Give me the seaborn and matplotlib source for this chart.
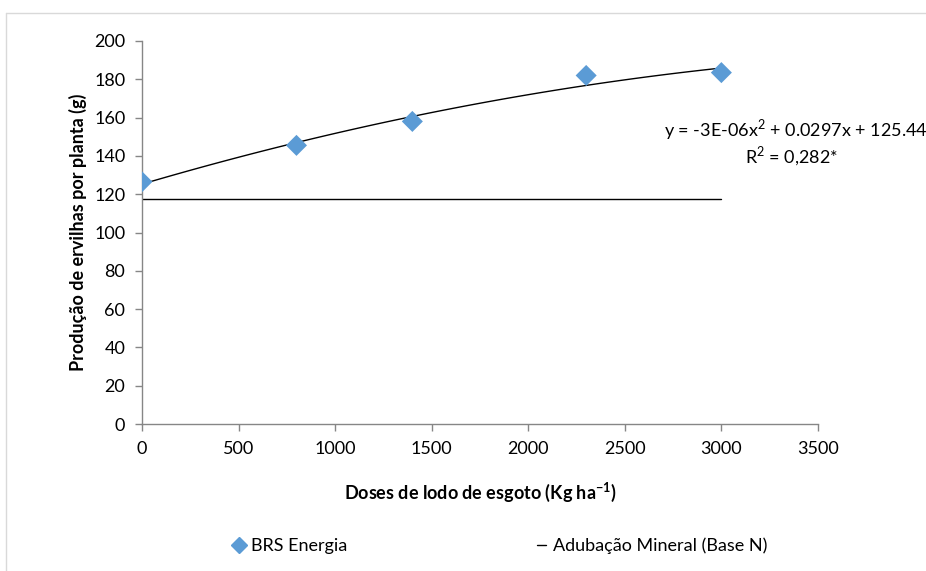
import numpy as np
import pandas as pd
import matplotlib
matplotlib.use("Agg")
import matplotlib.pyplot as plt
import seaborn as sns
from matplotlib.lines import Line2D

# data
doses = [0, 800, 1400, 2300, 3000]
producao = [126.5, 145.5, 158.0, 182.0, 183.5]
base_n_x = [0, 3000]
base_n_y = [117.5, 117.5]

x_ticks = [0, 500, 1000, 1500, 2000, 2500, 3000, 3500]
y_ticks = [0, 20, 40, 60, 80, 100, 120, 140, 160, 180, 200]

df = pd.DataFrame({"dose": doses, "prod": producao})

sns.set_style("white")
plt.rcParams['font.family'] = ['Lato', 'DejaVu Sans']
plt.rcParams['text.color'] = 'black'
plt.rcParams['axes.labelcolor'] = 'black'
plt.rcParams['xtick.color'] = 'black'
plt.rcParams['ytick.color'] = 'black'
plt.rcParams['mathtext.fontset'] = 'custom'
plt.rcParams['mathtext.rm'] = 'Lato'
plt.rcParams['mathtext.bf'] = 'Lato:bold'

fig = plt.figure(figsize=(9.26, 5.71), dpi=100)
ax = fig.add_axes([0.1533, 0.2574, 0.730, 0.6708])

# mineral fertilisation reference line
ax.plot(base_n_x, base_n_y, color="black", lw=1.0)

# quadratic trend line
sns.regplot(data=df, x="dose", y="prod", order=2, ci=None, scatter=False,
            line_kws={"color": "black", "lw": 1.0}, truncate=True, ax=ax)

# points
sns.scatterplot(data=df, x="dose", y="prod", marker="D", s=115,
                color="#5b9bd5", edgecolor="none", ax=ax, zorder=3)

ax.set_xlim(0, 3500)
ax.set_ylim(0, 200)
ax.set_xticks(x_ticks)
ax.set_yticks(y_ticks)
ax.tick_params(axis="both", which="both", direction="out", length=5,
               bottom=True, left=True, width=1.0,
               labelsize=13, pad=7)
ax.tick_params(axis="both", color="#868686")
for s in ["top", "right"]:
    ax.spines[s].set_visible(False)
for s in ["left", "bottom"]:
    ax.spines[s].set_color("#868686")
    ax.spines[s].set_linewidth(1.0)

ax.set_xlabel(r"Doses de lodo de esgoto (Kg ha$^{\mathbf{-1}}$)", fontsize=13,
              fontweight="bold", labelpad=17)
ax.set_ylabel("Produção de ervilhas por planta (g)", fontsize=13,
              fontweight="bold", labelpad=5)

ax.text(3386, 154, "y = -3E-06x$^2$ + 0.0297x + 125.44", fontsize=13,
        ha="center", va="center", clip_on=False)
ax.text(3365, 140, "R$^2$ = 0,282*", fontsize=13, ha="center", va="center")

handles = [
    Line2D([], [], marker="D", color="#5b9bd5", lw=0, markersize=8),
    Line2D([], [], color="black", lw=1.0),
]
leg = fig.legend(handles, ["BRS Energia", "Adubação Mineral (Base N)"],
                 loc="center", bbox_to_anchor=(0.541, 0.044), ncol=2,
                 frameon=False, fontsize=13, handlelength=0.5,
                 handletextpad=0.4, columnspacing=10.5)

# screenshot frame
fig.add_artist(Line2D([0.006, 1.0], [0.977, 0.977], color="#d9d9d9", lw=1))
fig.add_artist(Line2D([0.006, 0.006], [0.0, 0.977], color="#d9d9d9", lw=1))

fig.savefig("out.png", dpi=100)
